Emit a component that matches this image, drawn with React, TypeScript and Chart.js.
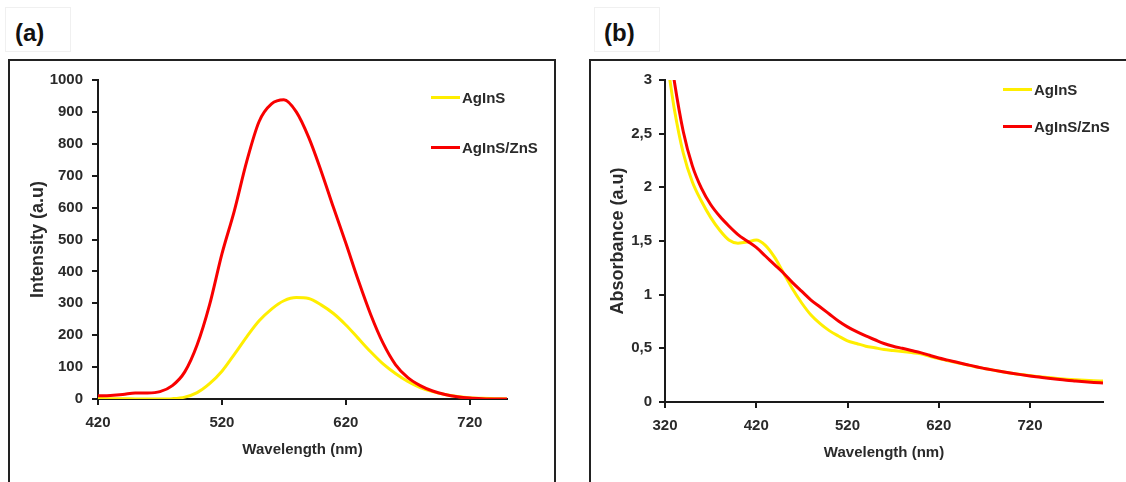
import React, { useEffect, useRef } from 'react';
import { Chart, registerables } from 'chart.js';

Chart.register(...registerables);

// ---------- data ----------
const seriesNames = ['AgInS', 'AgInS/ZnS'];

// Panel (a): photoluminescence
const wavelengthA = [420, 430, 440, 450, 460, 470, 480, 490, 500, 510, 520, 530, 540, 550, 560, 570, 580, 590, 600, 610, 620, 630, 640, 650, 660, 670, 680, 690, 700, 710, 720, 730, 740, 750];
const intensityAgInS = [2, 1, 1, 0, 0, 0, 1, 6, 20, 48, 87, 140, 195, 245, 282, 308, 318, 315, 295, 268, 232, 190, 148, 110, 80, 55, 36, 23, 14, 8, 4, 2, 1, 0];
const intensityAgInSZnS = [10, 11, 14, 19, 19, 23, 42, 85, 170, 295, 455, 590, 745, 870, 925, 938, 900, 820, 715, 600, 488, 372, 265, 175, 108, 67, 42, 25, 14, 7, 3, 1, 0, 0];
const xTicksA = [420, 520, 620, 720];

// Panel (b): absorbance
const wavelengthB = [325, 330, 340, 350, 360, 370, 380, 390, 400, 410, 420, 430, 440, 450, 460, 470, 480, 490, 500, 510, 520, 530, 540, 550, 560, 570, 580, 590, 600, 610, 620, 630, 640, 650, 660, 670, 680, 690, 700, 710, 720, 730, 740, 750, 760, 770, 780, 790, 800];
const absorbanceAgInS = [3.02, 2.74, 2.32, 2.05, 1.87, 1.72, 1.6, 1.51, 1.48, 1.49, 1.51, 1.46, 1.35, 1.2, 1.05, 0.92, 0.81, 0.73, 0.665, 0.615, 0.57, 0.545, 0.52, 0.505, 0.49, 0.48, 0.47, 0.46, 0.45, 0.426, 0.404, 0.384, 0.366, 0.348, 0.328, 0.312, 0.297, 0.282, 0.268, 0.256, 0.246, 0.236, 0.228, 0.22, 0.213, 0.207, 0.202, 0.198, 0.195];
const absorbanceAgInSZnS = [3.3, 3.0, 2.52, 2.2, 1.99, 1.84, 1.73, 1.64, 1.56, 1.5, 1.44, 1.36, 1.28, 1.2, 1.11, 1.03, 0.95, 0.885, 0.82, 0.755, 0.7, 0.655, 0.615, 0.58, 0.545, 0.52, 0.5, 0.48, 0.46, 0.435, 0.41, 0.39, 0.37, 0.35, 0.33, 0.313, 0.297, 0.282, 0.268, 0.255, 0.243, 0.232, 0.221, 0.211, 0.202, 0.195, 0.188, 0.182, 0.177];
const xTicksB = [320, 420, 520, 620, 720];

// ---------- styles ----------
const FONT = "'Liberation Sans', Arial, Helvetica, sans-serif";
const YELLOW = '#ffee00';
const RED = '#f80000';
const TEXT = '#2a2a2a';
const AXIS = '#1a1a1a';

type PanelOpts = {
  x: number[];
  yYellow: number[];
  yRed: number[];
  xMin: number;
  xMax: number;
  xTicks: number[];
  yMin: number;
  yMax: number;
  yStep: number;
  yTitle: string;
  yFmt: (v: number) => string;
  yAxisWidth: number;
  yTitlePad: number;
  yTickPad: number;
  pad: { top: number; right: number; bottom: number };
};

function buildConfig(o: PanelOpts): any {
  const tickFont = { family: FONT, size: 15, weight: 'bold' as const };
  return {
    type: 'line',
    data: {
      datasets: [
        {
          label: seriesNames[1],
          data: o.x.map((x, i) => ({ x, y: o.yRed[i] })),
          borderColor: RED,
          backgroundColor: RED,
          borderWidth: 3,
          pointRadius: 0,
          cubicInterpolationMode: 'monotone',
          order: 0,
        },
        {
          label: seriesNames[0],
          data: o.x.map((x, i) => ({ x, y: o.yYellow[i] })),
          borderColor: YELLOW,
          backgroundColor: YELLOW,
          borderWidth: 3,
          pointRadius: 0,
          cubicInterpolationMode: 'monotone',
          order: 1,
        },
      ],
    },
    options: {
      animation: false,
      responsive: false,
      events: [],
      layout: { padding: { left: 0, top: o.pad.top, right: o.pad.right, bottom: o.pad.bottom } },
      plugins: { legend: { display: false }, tooltip: { enabled: false } },
      scales: {
        x: {
          type: 'linear',
          min: o.xMin,
          max: o.xMax,
          afterBuildTicks: (s: any) => {
            s.ticks = o.xTicks.map((v) => ({ value: v }));
          },
          afterFit: (s: any) => {
            s.height = 60;
          },
          grid: { drawOnChartArea: false, drawTicks: true, tickLength: 6, color: AXIS, lineWidth: 2 },
          border: { display: true, color: AXIS, width: 2 },
          ticks: {
            font: tickFont,
            color: TEXT,
            padding: 9,
            maxRotation: 0,
            autoSkip: false,
            callback: (v: any) => String(v),
          },
          title: {
            display: true,
            text: 'Wavelength (nm)',
            font: tickFont,
            color: TEXT,
            padding: { top: 0, bottom: 0 },
          },
        },
        y: {
          type: 'linear',
          min: o.yMin,
          max: o.yMax,
          afterFit: (s: any) => {
            s.width = o.yAxisWidth;
          },
          grid: { drawOnChartArea: false, drawTicks: true, tickLength: 6, color: AXIS, lineWidth: 2 },
          border: { display: true, color: AXIS, width: 2 },
          ticks: {
            stepSize: o.yStep,
            font: tickFont,
            color: TEXT,
            padding: o.yTickPad,
            callback: (v: any) => o.yFmt(Number(v)),
          },
          title: {
            display: true,
            text: o.yTitle,
            font: { family: FONT, size: 18, weight: 'bold' },
            color: TEXT,
            padding: { top: o.yTitlePad, bottom: 0 },
          },
        },
      },
    },
  };
}

function ChartCanvas({ left, top, width, height, opts }: { left: number; top: number; width: number; height: number; opts: PanelOpts }) {
  const ref = useRef<HTMLCanvasElement | null>(null);
  useEffect(() => {
    if (!ref.current) return;
    const chart = new Chart(ref.current, buildConfig(opts));
    return () => chart.destroy();
  }, []);
  return (
    <canvas
      ref={ref}
      width={width}
      height={height}
      style={{ position: 'absolute', left, top, width, height, display: 'block' }}
    />
  );
}

function Legend({ left, top, gap }: { left: number; top: number; gap: number }) {
  const items = [
    { name: seriesNames[0], color: YELLOW },
    { name: seriesNames[1], color: RED },
  ];
  return (
    <>
      {items.map((it, i) => (
        <div
          key={it.name}
          style={{
            position: 'absolute',
            left,
            top: top + i * gap - 9,
            height: 18,
            display: 'flex',
            alignItems: 'center',
            fontFamily: FONT,
            fontWeight: 'bold',
            fontSize: 15,
            color: TEXT,
            whiteSpace: 'nowrap',
          }}
        >
          <span style={{ display: 'inline-block', width: 29, height: 3, background: it.color, marginRight: 2 }} />
          <span>{it.name}</span>
        </div>
      ))}
    </>
  );
}

function PanelLabel({ left, text }: { left: number; text: string }) {
  return (
    <div
      style={{
        position: 'absolute',
        left,
        top: 7,
        width: 66,
        height: 45,
        border: '1px solid #f0f0f0',
        boxSizing: 'border-box',
        background: '#fff',
      }}
    >
      <div
        style={{
          position: 'absolute',
          left: 9,
          top: 12,
          lineHeight: '26px',
          fontFamily: FONT,
          fontWeight: 'bold',
          fontSize: 24,
          color: '#111',
        }}
      >
        {text}
      </div>
    </div>
  );
}

const panelA: PanelOpts = {
  x: wavelengthA,
  yYellow: intensityAgInS,
  yRed: intensityAgInSZnS,
  xMin: 420,
  xMax: 750,
  xTicks: xTicksA,
  yMin: 0,
  yMax: 1000,
  yStep: 100,
  yTitle: 'Intensity (a.u)',
  yFmt: (v) => String(v),
  yAxisWidth: 88,
  yTitlePad: 17,
  yTickPad: 9,
  pad: { top: 17, right: 43, bottom: 23 },
};

const panelB: PanelOpts = {
  x: wavelengthB,
  yYellow: absorbanceAgInS,
  yRed: absorbanceAgInSZnS,
  xMin: 320,
  xMax: 800,
  xTicks: xTicksB,
  yMin: 0,
  yMax: 3,
  yStep: 0.5,
  yTitle: 'Absorbance (a.u)',
  yFmt: (v) => String(v).replace('.', ','),
  yAxisWidth: 74,
  yTitlePad: 16,
  yTickPad: 7,
  pad: { top: 18, right: 23, bottom: 20 },
};

export default function App() {
  return (
    <div
      style={{
        position: 'absolute',
        left: 0,
        top: 0,
        width: 1126,
        height: 482,
        overflow: 'hidden',
        background: '#fff',
      }}
    >
      <PanelLabel left={5} text="(a)" />
      <PanelLabel left={594} text="(b)" />
      <div
        style={{
          position: 'absolute',
          left: 8,
          top: 59,
          width: 548,
          height: 460,
          border: '2px solid #222',
          boxSizing: 'border-box',
        }}
      />
      <div
        style={{
          position: 'absolute',
          left: 589,
          top: 59,
          width: 600,
          height: 460,
          border: '2px solid #222',
          boxSizing: 'border-box',
        }}
      />
      <ChartCanvas left={10} top={62} width={540} height={420} opts={panelA} />
      <ChartCanvas left={591} top={62} width={535} height={420} opts={panelB} />
      <Legend left={431} top={97} gap={50} />
      <Legend left={1003} top={89} gap={37} />
    </div>
  );
}
